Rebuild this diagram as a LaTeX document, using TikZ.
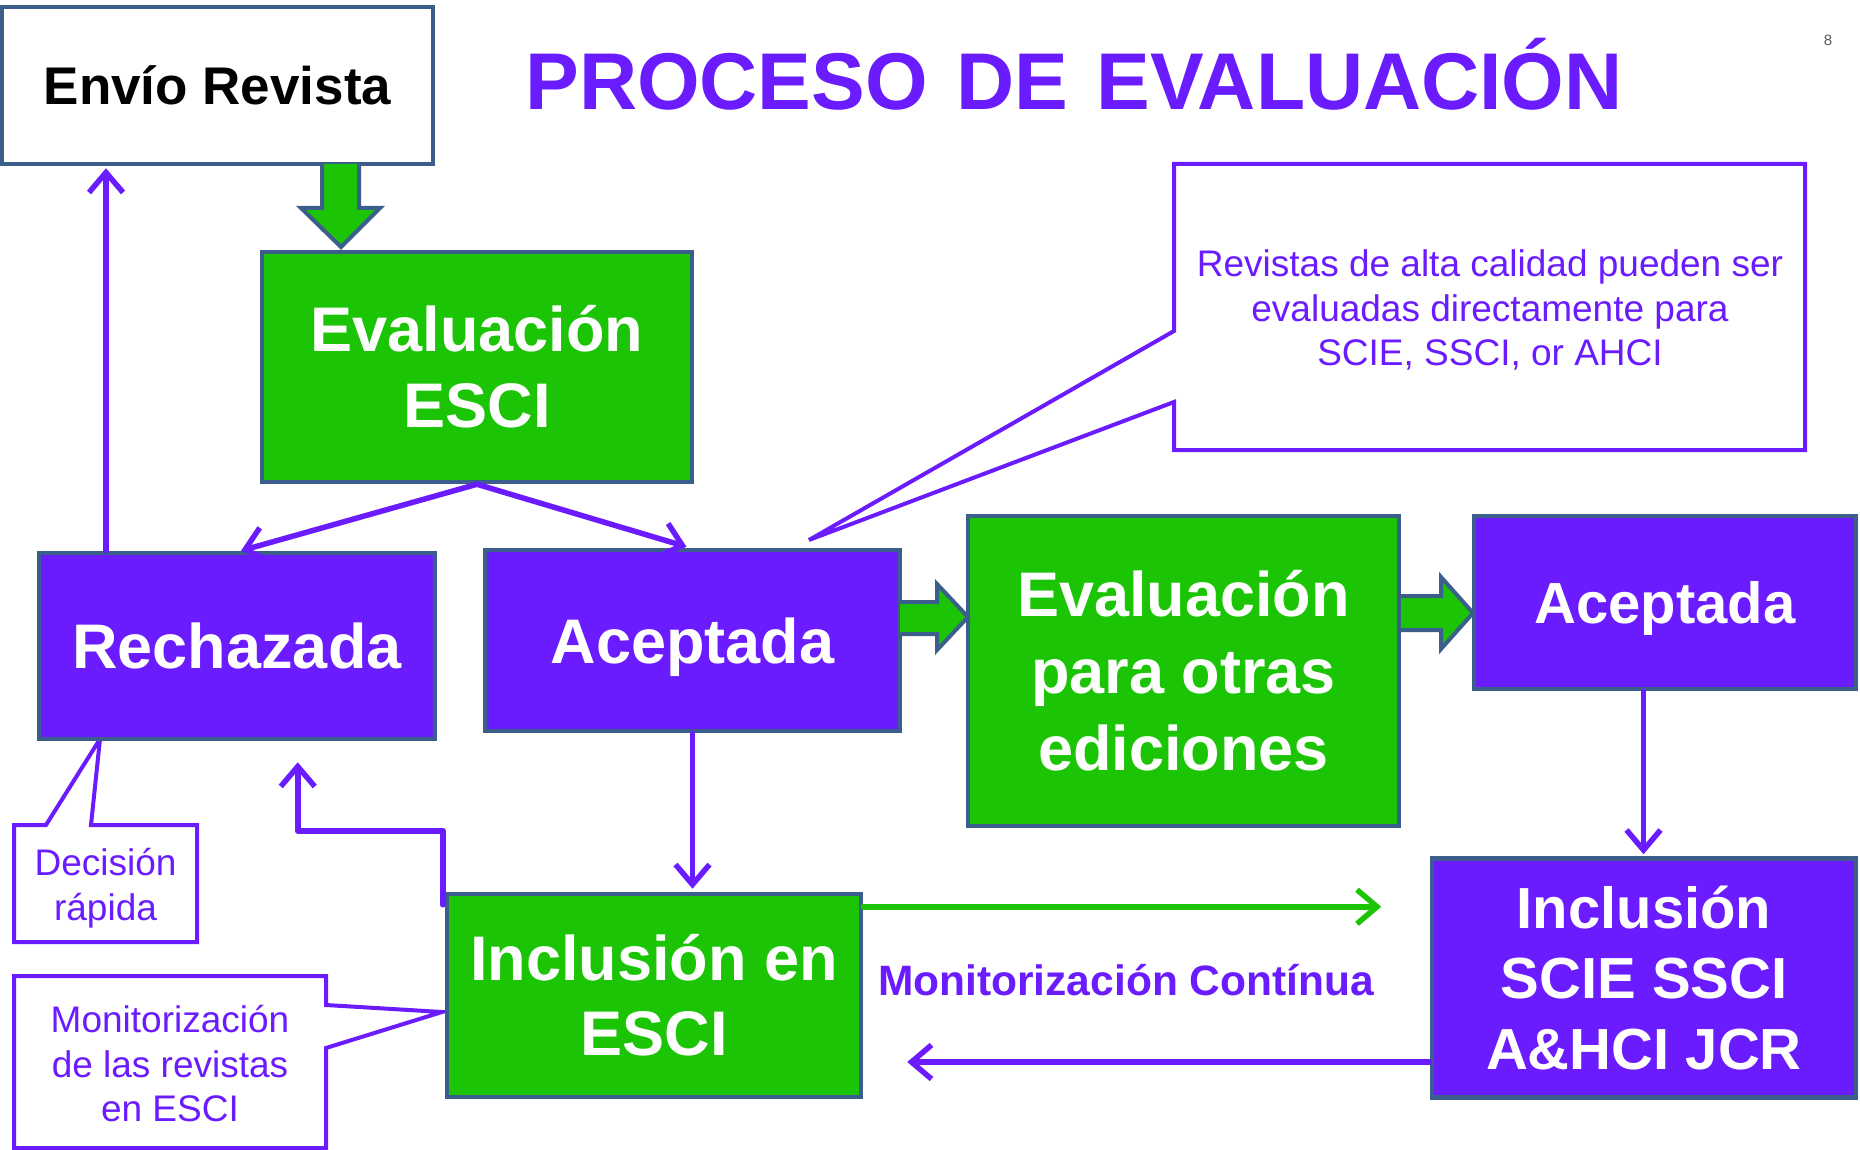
\documentclass[tikz,border=0pt]{standalone}
\usepackage{fontspec}
\setmainfont{Liberation Sans}
\usetikzlibrary{arrows.meta,calc}
\definecolor{purp}{RGB}{106,28,255}
\definecolor{grn}{RGB}{28,196,6}
\definecolor{slate}{RGB}{60,94,139}
\begin{document}
\begin{tikzpicture}[x=1pt,y=-1pt,
 box/.style={draw=slate, line width=4.5pt, inner sep=0pt, align=center, text=white},
 gbox/.style={box, fill=grn},
 pbox/.style={box, fill=purp},
 parr/.style={draw=purp, line width=5.5pt, line cap=round, line join=round, -{Straight Barb[length=20pt,width=34pt]}},
 garr/.style={parr, draw=grn},
 blk/.style={fill=grn, draw=slate, line width=4pt, line join=miter},
 callout/.style={draw=purp, line width=4pt, fill=white, line join=miter},
 ctext/.style={text=purp, align=center, inner sep=0pt, font=\fontsize{37}{44.5}\selectfont},
 big/.style={font=\bfseries\fontsize{63}{76}\selectfont},
]
\useasboundingbox[fill=white] (0,0) rectangle (1860,1150);

% title and page number
\node[text=purp, inner sep=0pt, anchor=base, font=\bfseries\fontsize{80.5}{82}\selectfont] (title) at (1074,110) {PROCESO\hspace{6pt} DE\hspace{6pt} EVALUACIÓN};
\node[text=black!65, inner sep=0pt, font=\fontsize{15}{16}\selectfont] (pnum) at (1828,40) {8};

% callouts
\draw[callout] (1174,164) -- (1805,164) -- (1805,450) -- (1174,450) -- (1174,402) -- (809,540) -- (1174,331) -- cycle;
\node[ctext] (c1) at (1490,310) {Revistas de alta calidad pueden ser\\evaluadas directamente para\\SCIE, SSCI, or AHCI};
\draw[callout] (14,825) -- (46,825) -- (100,739) -- (91,825) -- (197,825) -- (197,942) -- (14,942) -- cycle;
\node[ctext] (c2) at (105.5,888) {Decisión\\rápida};
\draw[callout] (14,976) -- (326,976) -- (326,1005) -- (442,1012) -- (326,1048) -- (326,1148) -- (14,1148) -- cycle;
\node[ctext] (c3) at (170,1064) {Monitorización\\de las revistas\\en ESCI};

% boxes
\node[box, fill=white, text=black, font=\bfseries\fontsize{53}{60}\selectfont, minimum width=431, minimum height=157] (envio) at (217.5,85.5) {Envío Revista};
\node[gbox, big, minimum width=430, minimum height=230] (evesci) at (477,367) {Evaluación\\ESCI};
\node[pbox, big, minimum width=396, minimum height=186] (rech) at (237,646) {Rechazada};
\node[pbox, big, text depth=0pt, minimum width=415, minimum height=181] (acep1) at (692.5,640.5) {Aceptada};
\node[gbox, big, font=\bfseries\fontsize{63}{77}\selectfont, minimum width=431, minimum height=310] (evotras) at (1183.5,671) {Evaluación\\para otras\\ediciones};
\node[pbox, text depth=0pt, font=\bfseries\fontsize{58}{70}\selectfont, minimum width=382, minimum height=173] (acep2) at (1665,602.5) {Aceptada};
\node[gbox, big, font=\bfseries\fontsize{63}{75}\selectfont, minimum width=414, minimum height=203] (incl) at (654,995.5) {Inclusión en\\ESCI};
\node[pbox, font=\bfseries\fontsize{58}{70.5}\selectfont, minimum width=424, minimum height=239] (sci) at (1644,978) {Inclusión\\SCIE SSCI\\A\&HCI JCR};

\node[text=purp, inner sep=0pt, font=\bfseries\fontsize{42.5}{44}\selectfont] (mon) at (1126,980) {Monitorización Contínua};

% block arrows
\draw[blk] (322,164) -- (322,208) -- (301,208) -- (341,247) -- (380,208) -- (359,208) -- (359,164);
\draw[blk] (900,602) -- (937,602) -- (937,584) -- (968,617) -- (937,650) -- (937,634) -- (900,634);
\draw[blk] (1401,596) -- (1441,596) -- (1441,577) -- (1473,613) -- (1441,649) -- (1441,630) -- (1401,630);

% line connectors
\coordinate (lx) at (106,0);
\coordinate (dx) at (1643.5,0);
\draw[parr] (rech.north -| lx) -- ($(envio.south -| lx)+(0,2)$);
\draw[parr] (evesci.south) -- ($(rech.north)+(4,0)$);
\draw[parr] (evesci.south) -- ($(acep1.north)+(-6,-1)$);
\draw[parr] (acep1.south) -- ($(acep1.south |- incl.north)+(0,-3)$);
\draw[parr] ($(incl.north west)+(-2,13)$) -- ++(0,-74) -| ($(rech.south west)+(261,21)$);
\draw[parr] (acep2.south -| dx) -- ($(sci.north -| dx)+(0,-2)$);
\draw[garr] ($(incl.north east)+(0,15)$) -- ++(518,0);
\draw[parr] ($(sci.west)+(0,84)$) -- ($(incl.east)+(44,66.5)$);
\end{tikzpicture}
\end{document}
